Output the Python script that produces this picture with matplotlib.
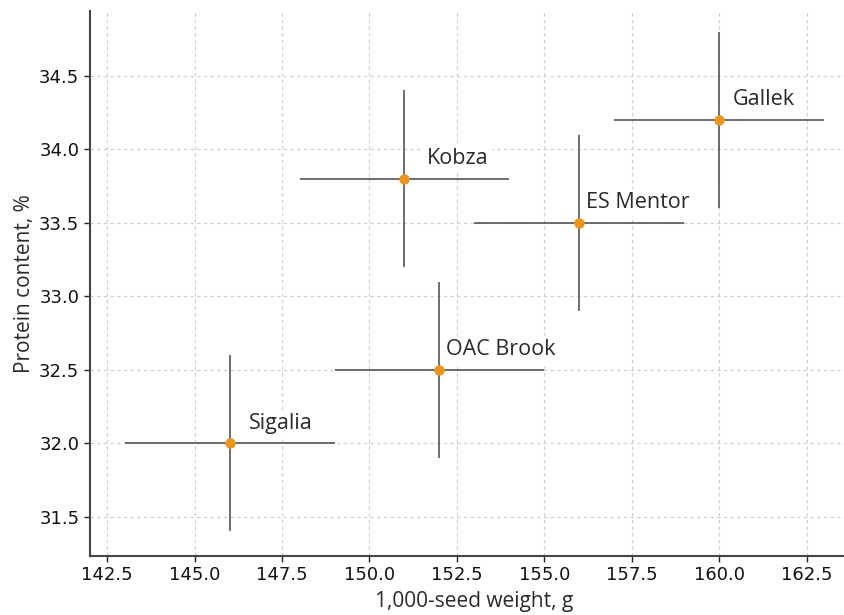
import matplotlib
matplotlib.use("Agg")
import matplotlib.pyplot as plt

varieties = ["Sigalia", "OAC Brook", "Kobza", "ES Mentor", "Gallek"]
seed_weight = [146.0, 152.0, 151.0, 156.0, 160.0]
protein = [32.0, 32.5, 33.8, 33.5, 34.2]
seed_weight_err = [3.0, 3.0, 3.0, 3.0, 3.0]
protein_err = [0.6, 0.6, 0.6, 0.6, 0.6]

label_offsets = [(14, 14.4), (5, 14.4), (16, 14.4), (5, 14.4), (10, 14.4)]  # points

fig = plt.figure(figsize=(8.45, 6.15), dpi=100)
ax = fig.add_axes([0.1062, 0.0959, 0.9104, 0.8861])

ax.errorbar(seed_weight, protein, xerr=seed_weight_err, yerr=protein_err,
            fmt='o', color='#E8961E', markersize=6.5, ecolor='#555555',
            elinewidth=1.2, capsize=0, zorder=3)

for name, x, y, off in zip(varieties, seed_weight, protein, label_offsets):
    ax.annotate(name, (x, y), xytext=off, textcoords='offset points',
                fontsize=15.5, family=['Open Sans', 'DejaVu Sans'], color='#2a2a2a',
                va='center', ha='left',
                bbox=dict(boxstyle='square,pad=0.15', fc='white', ec='none'), zorder=4)

ax.set_xlim(142.0, 164.0)
ax.set_ylim(31.233, 34.94)
ax.set_xticks([142.5, 145.0, 147.5, 150.0, 152.5, 155.0, 157.5, 160.0, 162.5])
ax.set_yticks([31.5, 32.0, 32.5, 33.0, 33.5, 34.0, 34.5])
ax.xaxis.set_major_formatter(matplotlib.ticker.FormatStrFormatter('%.1f'))
ax.yaxis.set_major_formatter(matplotlib.ticker.FormatStrFormatter('%.1f'))

ax.grid(True, linestyle=(0, (3, 3)), color='#cccccc', linewidth=0.8, zorder=0)
ax.set_axisbelow(True)
for s in ['top', 'right']:
    ax.spines[s].set_visible(False)
for s in ['left', 'bottom']:
    ax.spines[s].set_color('#444444')
    ax.spines[s].set_linewidth(1.5)
ax.tick_params(labelsize=13, colors='#222222', labelcolor='#111111', length=4, width=1)

ax.set_xlabel('1,000-seed weight, g', fontsize=15, family=['Open Sans', 'DejaVu Sans'], color='#2a2a2a', labelpad=5)
ax.set_ylabel('Protein content, %', fontsize=15, family=['Open Sans', 'DejaVu Sans'], color='#2a2a2a', labelpad=3)

fig.savefig('out.png', dpi=100)
